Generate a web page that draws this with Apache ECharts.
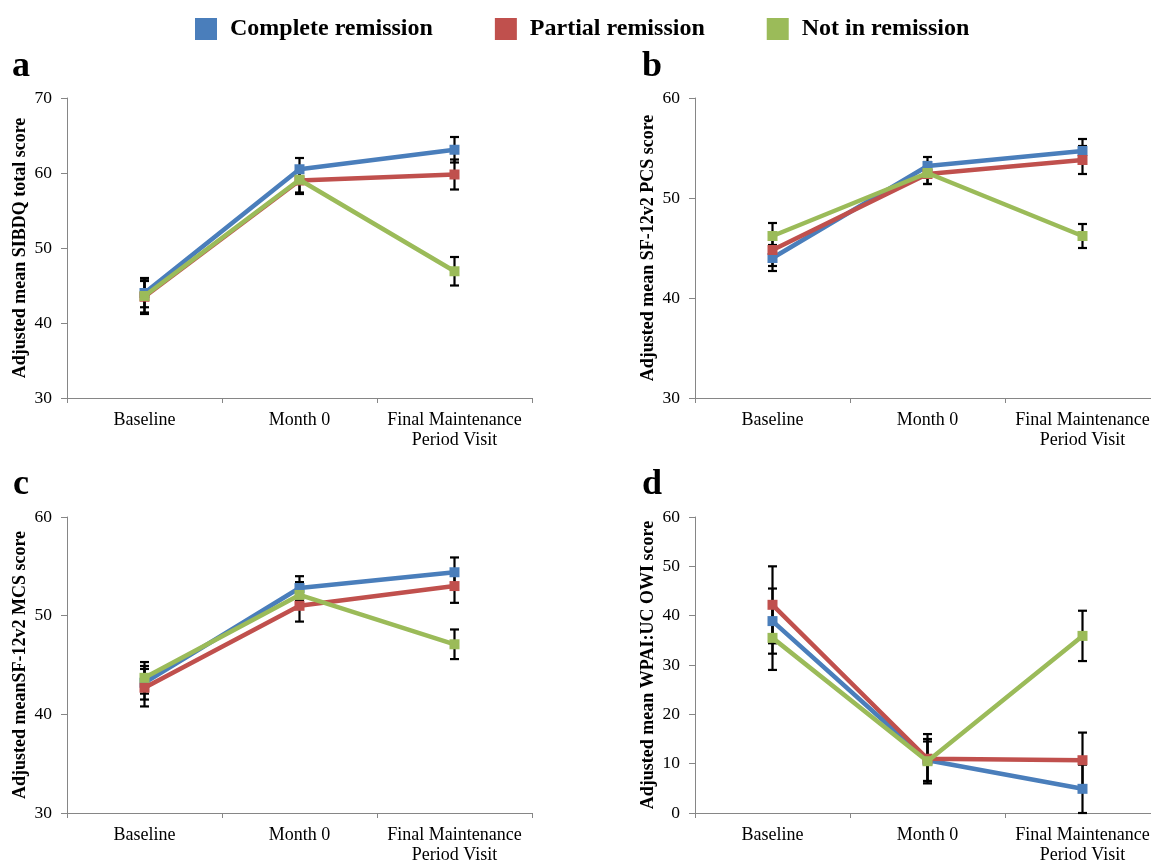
<!DOCTYPE html>
<html>
<head>
<meta charset="utf-8">
<script src="https://cdn.jsdelivr.net/npm/echarts@6/dist/echarts.min.js"></script>
<style>
html,body{margin:0;padding:0;background:#fff;overflow:hidden;}
#chart{width:1162px;height:865px;}
</style>
</head>
<body>
<div id="chart"></div>
<script>
// ---- Data ----
const categories = ['Baseline', 'Month 0', 'Final Maintenance\nPeriod Visit'];
const seriesNames = ['Complete remission', 'Partial remission', 'Not in remission'];
const panelLetters = ['a', 'b', 'c', 'd'];
const yAxisNames = [
  'Adjusted mean SIBDQ total score',
  'Adjusted mean SF-12v2 PCS score',
  'Adjusted meanSF-12v2 MCS score',
  'Adjusted mean WPAI:UC OWI score'
];
const yMins = [30, 30, 30, 0];
const yMaxs = [70, 60, 60, 60];

// Panel a: SIBDQ
const sibdqComplete = [44.0, 60.5, 63.1];
const sibdqCompleteErr = [1.9, 1.5, 1.7];
const sibdqPartial = [43.5, 59.0, 59.8];
const sibdqPartialErr = [2.1, 1.8, 2.0];
const sibdqNot = [43.6, 59.1, 46.9];
const sibdqNotErr = [2.4, 1.7, 1.9];

// Panel b: SF-12v2 PCS
const pcsComplete = [44.0, 53.2, 54.7];
const pcsCompleteErr = [1.3, 0.9, 1.2];
const pcsPartial = [44.8, 52.4, 53.8];
const pcsPartialErr = [1.6, 1.0, 1.4];
const pcsNot = [46.2, 52.5, 46.2];
const pcsNotErr = [1.3, 1.1, 1.2];

// Panel c: SF-12v2 MCS
const mcsComplete = [43.2, 52.8, 54.4];
const mcsCompleteErr = [1.7, 1.2, 1.5];
const mcsPartial = [42.7, 51.0, 53.0];
const mcsPartialErr = [1.9, 1.6, 1.7];
const mcsNot = [43.7, 52.1, 47.1];
const mcsNotErr = [1.6, 1.3, 1.5];

// Panel d: WPAI:UC OWI
const wpaiComplete = [38.9, 10.7, 4.9];
const wpaiCompleteErr = [6.6, 4.3, 4.9];
const wpaiPartial = [42.2, 11.0, 10.7];
const wpaiPartialErr = [7.8, 5.0, 5.6];
const wpaiNot = [35.5, 10.5, 35.9];
const wpaiNotErr = [6.5, 4.0, 5.1];

const panels = [
  [[sibdqComplete, sibdqCompleteErr], [sibdqPartial, sibdqPartialErr], [sibdqNot, sibdqNotErr]],
  [[pcsComplete, pcsCompleteErr], [pcsPartial, pcsPartialErr], [pcsNot, pcsNotErr]],
  [[mcsComplete, mcsCompleteErr], [mcsPartial, mcsPartialErr], [mcsNot, mcsNotErr]],
  [[wpaiComplete, wpaiCompleteErr], [wpaiPartial, wpaiPartialErr], [wpaiNot, wpaiNotErr]]
];

// ---- Styling ----
const colors = ['#4A7EBB', '#C0504D', '#9BBB59'];
const FONT = "'Liberation Serif', 'Times New Roman', serif";
const gridPos = [
  {left: 67, top: 98, width: 465, height: 300},
  {left: 695, top: 98, width: 465, height: 300},
  {left: 67, top: 517, width: 465, height: 300},
  {left: 695, top: 517, width: 465, height: 300}
];
const letterPos = [[12, 49], [642, 49], [13, 467], [642, 467]];

function renderErr(params, api) {
  const x = api.value(0), lo = api.value(1), hi = api.value(2);
  const pLo = api.coord([x, lo]);
  const pHi = api.coord([x, hi]);
  const w = 4.5;
  const st = {stroke: '#000', lineWidth: 2.2};
  return {
    type: 'group',
    children: [
      {type: 'line', shape: {x1: pHi[0], y1: pHi[1], x2: pLo[0], y2: pLo[1]}, style: st},
      {type: 'line', shape: {x1: pHi[0] - w, y1: pHi[1], x2: pHi[0] + w, y2: pHi[1]}, style: st},
      {type: 'line', shape: {x1: pLo[0] - w, y1: pLo[1], x2: pLo[0] + w, y2: pLo[1]}, style: st}
    ]
  };
}

const grids = [], xAxes = [], yAxes = [], series = [], graphics = [];
panels.forEach((panel, gi) => {
  grids.push(Object.assign({containLabel: false}, gridPos[gi]));
  xAxes.push({
    type: 'category', gridIndex: gi, data: categories, boundaryGap: true,
    axisLine: {lineStyle: {color: '#868686', width: 1}},
    axisTick: {show: true, length: 5, lineStyle: {color: '#868686'}},
    axisLabel: {color: '#000', fontFamily: FONT, fontSize: 18, lineHeight: 20, margin: 12, interval: 0}
  });
  yAxes.push({
    type: 'value', gridIndex: gi, min: yMins[gi], max: yMaxs[gi], interval: 10,
    name: yAxisNames[gi], nameLocation: 'middle', nameGap: 38, nameRotate: 90,
    nameTextStyle: {color: '#000', fontFamily: FONT, fontSize: 18, fontWeight: 'bold'},
    axisLine: {show: true, lineStyle: {color: '#868686', width: 1}},
    axisTick: {show: true, length: 6, lineStyle: {color: '#868686'}},
    splitLine: {show: false},
    axisLabel: {color: '#000', fontFamily: FONT, fontSize: 17.5, margin: 15}
  });
  panel.forEach(([vals, errs], si) => {
    series.push({
      type: 'custom', name: seriesNames[si], xAxisIndex: gi, yAxisIndex: gi,
      renderItem: renderErr, z: 1, silent: true,
      itemStyle: {color: colors[si]},
      data: vals.map((v, i) => [i, v - errs[i], v + errs[i]]),
      encode: {x: 0, y: [1, 2]}
    });
  });
  panel.forEach(([vals], si) => {
    series.push({
      type: 'line', name: seriesNames[si], xAxisIndex: gi, yAxisIndex: gi,
      data: vals, symbol: 'rect', symbolSize: 10, showSymbol: true, z: 3 + si,
      lineStyle: {color: colors[si], width: 4.5},
      itemStyle: {color: colors[si]}
    });
  });
  graphics.push({
    type: 'text', left: letterPos[gi][0], top: letterPos[gi][1],
    style: {text: panelLetters[gi], font: "bold 36px " + FONT, fill: '#000'}
  });
});

const chart = echarts.init(document.getElementById('chart'), null, {renderer: 'canvas'});
chart.setOption({
  animation: false,
  backgroundColor: '#fff',
  legend: {
    data: seriesNames, left: 190, top: 12, icon: 'rect',
    itemWidth: 22, itemHeight: 22, itemGap: 62,
    textStyle: {color: '#000', fontFamily: FONT, fontSize: 24, fontWeight: 'bold', padding: [0, 0, 0, 8]}
  },
  grid: grids, xAxis: xAxes, yAxis: yAxes, series: series, graphic: graphics
});
</script>
</body>
</html>
